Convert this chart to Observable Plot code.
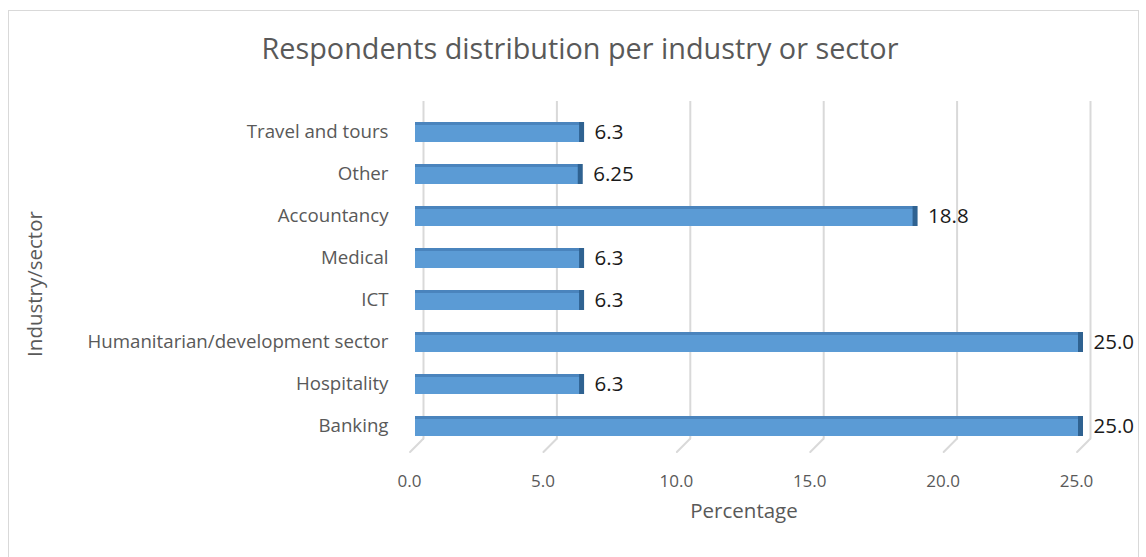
<!DOCTYPE html>
<html>
<head>
<meta charset="utf-8">
<script src="https://cdn.jsdelivr.net/npm/d3@7"></script>
<script src="https://cdn.jsdelivr.net/npm/@observablehq/plot@0.6"></script>
<style>
  html, body { margin: 0; padding: 0; background: #fff; }
  body { width: 1146px; height: 557px; overflow: hidden; position: relative; font-family: "Open Sans", sans-serif; }
  #frame { position: absolute; left: 8px; top: 10px; width: 1129px; height: 570px; border: 1px solid #d9d9d9; pointer-events: none; }
  #title { height: 64px; padding-top: 16px; line-height: 64px; text-align: center; font-size: 28.8px; color: #595959; padding-left: 14px; }
  svg { display: block; }
</style>
</head>
<body>
<div id="frame"></div>
<div id="title">Respondents distribution per industry or sector</div>
<div id="chart"></div>
<script>
const categories = ["Travel and tours", "Other", "Accountancy", "Medical", "ICT", "Humanitarian/development sector", "Hospitality", "Banking"];
const values = [6.3, 6.25, 18.8, 6.3, 6.3, 25.0, 6.3, 25.0];
const valueLabels = ["6.3", "6.25", "18.8", "6.3", "6.3", "25.0", "6.3", "25.0"];
const xTicks = [0, 5, 10, 15, 20, 25];
const xTitle = "Percentage";
const yTitle = "Industry/sector";

const data = categories.map((c, i) => ({category: c, value: values[i], label: valueLabels[i]}));

const chart = Plot.plot({
  width: 1146,
  height: 477,
  marginLeft: 423,
  marginRight: 56,
  marginTop: 31,
  marginBottom: 109,
  style: {fontFamily: "Open Sans, sans-serif", color: "#595959", background: "transparent"},
  x: {domain: [0, 25], ticks: xTicks},
  y: {domain: categories, paddingInner: 0.52, paddingOuter: 0.26, label: null},
  marks: [
    Plot.ruleX(xTicks, {x: d => d, stroke: "#d9d9d9", strokeWidth: 2, dy: -10}),
    Plot.vector(xTicks, {
      x: d => d, frameAnchor: "bottom", dy: -10, rotate: 225, length: 19, anchor: "start",
      stroke: "#d9d9d9", strokeWidth: 2,
      shape: {draw(ctx, l) { ctx.moveTo(0, 0); ctx.lineTo(0, -l); }}
    }),
    // front face
    Plot.barX(data, {x: "value", y: "category", fill: "#5b9bd5", dx: -8}),
    // top face
    Plot.barX(data, {x: "value", y: "category", fill: "#4a84bd", dx: -8, insetBottom: 17}),
    // end face
    Plot.tickX(data, {x: "value", y: "category", stroke: "#2f6291", strokeWidth: 5, dx: -10}),
    Plot.text(data, {x: "value", y: "category", text: "label", textAnchor: "start", dx: 3, fontSize: 20.5, fill: "#1a1a1a"}),
    Plot.axisX({ticks: xTicks, tickFormat: d => d.toFixed(1), tickSize: 0, tickPadding: 26, dx: -14, fontSize: 17, fill: "#595959", label: null}),
    Plot.axisY({tickSize: 0, tickPadding: 35, fontSize: 18.7, fill: "#595959", label: null}),
    Plot.text([xTitle], {frameAnchor: "bottom", text: d => d, dy: 69, dx: -13, fontSize: 20.5, fill: "#595959"}),
    Plot.text([yTitle], {frameAnchor: "left", textAnchor: "middle", text: d => d, rotate: -90, dx: -388, dy: 4, fontSize: 20.5, fill: "#595959"})
  ]
});
document.getElementById("chart").appendChild(chart);
</script>
</body>
</html>
